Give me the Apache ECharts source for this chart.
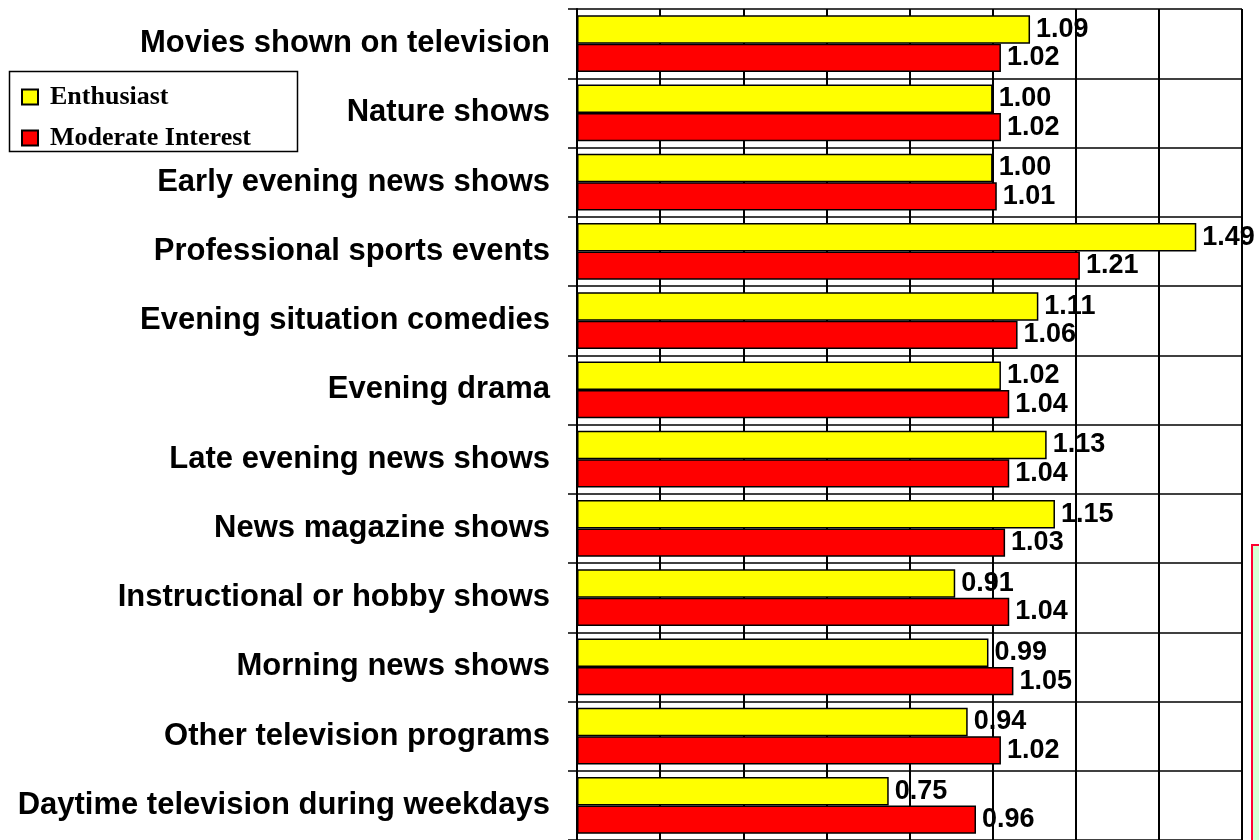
<!DOCTYPE html>
<html>
<head>
<meta charset="utf-8">
<style>
  html, body { margin: 0; padding: 0; background: #ffffff; }
  #chart { width: 1259px; height: 840px; }
</style>
<script src="https://cdn.jsdelivr.net/npm/echarts@6/dist/echarts.min.js"></script>
</head>
<body>
<div id="chart"></div>
<script>
// Television program types, listed top to bottom
const categories = [
  'Movies shown on television',
  'Nature shows',
  'Early evening news shows',
  'Professional sports events',
  'Evening situation comedies',
  'Evening drama',
  'Late evening news shows',
  'News magazine shows',
  'Instructional or hobby shows',
  'Morning news shows',
  'Other television programs',
  'Daytime television during weekdays'
];

// Index values per audience group
const enthusiast = [1.09, 1.00, 1.00, 1.49, 1.11, 1.02, 1.13, 1.15, 0.91, 0.99, 0.94, 0.75];
const moderateInterest = [1.02, 1.02, 1.01, 1.21, 1.06, 1.04, 1.04, 1.03, 1.04, 1.05, 1.02, 0.96];

const seriesNames = ['Enthusiast', 'Moderate Interest'];

const sansFont = 'Arial, "Liberation Sans", Helvetica, sans-serif';
const serifFont = '"Times New Roman", "Liberation Serif", serif';

const chart = echarts.init(document.getElementById('chart'), null, { renderer: 'canvas' });

const valueLabel = {
  show: true,
  position: 'right',
  distance: 6,
  color: '#000',
  fontFamily: sansFont,
  fontWeight: 'bold',
  fontSize: 27,
  formatter: p => p.value.toFixed(2)
};

chart.setOption({
  animation: false,
  backgroundColor: '#ffffff',
  grid: {
    left: 577,
    right: 17,
    top: 9,
    bottom: -5,
    containLabel: false
  },
  legend: {
    orient: 'vertical',
    left: 21,
    top: 84,
    itemWidth: 16,
    itemHeight: 15,
    itemGap: 15,
    icon: 'rect',
    padding: 0,
    textStyle: {
      fontFamily: serifFont,
      fontWeight: 'bold',
      fontSize: 26,
      color: '#000',
      padding: [0, 0, 0, 7]
    },
    data: seriesNames
  },
  graphic: [
    {
      // legend frame
      type: 'rect',
      z: 0,
      shape: { x: 9.5, y: 71.5, width: 288, height: 80 },
      style: { fill: 'transparent', stroke: '#000', lineWidth: 1.5 }
    },
    {
      // partially visible note box at the right edge
      type: 'rect',
      z: 0,
      shape: { x: 1252, y: 545, width: 30, height: 320 },
      style: { fill: '#d4ffd4', stroke: '#ff0030', lineWidth: 2 }
    }
  ],
  xAxis: {
    type: 'value',
    min: 0,
    max: 1.6,
    interval: 0.2,
    position: 'bottom',
    axisLine: { show: false },
    axisTick: { show: false },
    axisLabel: { show: false },
    splitLine: { show: true, lineStyle: { color: '#000', width: 2 } }
  },
  yAxis: {
    type: 'category',
    inverse: true,
    data: categories,
    axisLine: { show: true, lineStyle: { color: '#000', width: 2 } },
    axisTick: { show: true, length: 9, lineStyle: { color: '#000', width: 1.5 } },
    axisLabel: {
      margin: 27,
      color: '#000',
      fontFamily: sansFont,
      fontWeight: 'bold',
      fontSize: 31,
      padding: [4, 0, 0, 0]
    },
    splitLine: { show: true, lineStyle: { color: '#000', width: 1.5 } }
  },
  series: [
    {
      name: seriesNames[0],
      type: 'bar',
      data: enthusiast,
      barGap: '0%',
      barCategoryGap: '18%',
      itemStyle: { color: '#ffff00', borderColor: '#000', borderWidth: 1.5 },
      label: valueLabel,
      z: 3
    },
    {
      name: seriesNames[1],
      type: 'bar',
      data: moderateInterest,
      barGap: '0%',
      barCategoryGap: '18%',
      itemStyle: { color: '#ff0000', borderColor: '#000', borderWidth: 1.5 },
      label: valueLabel,
      z: 3
    }
  ]
});
</script>
</body>
</html>
